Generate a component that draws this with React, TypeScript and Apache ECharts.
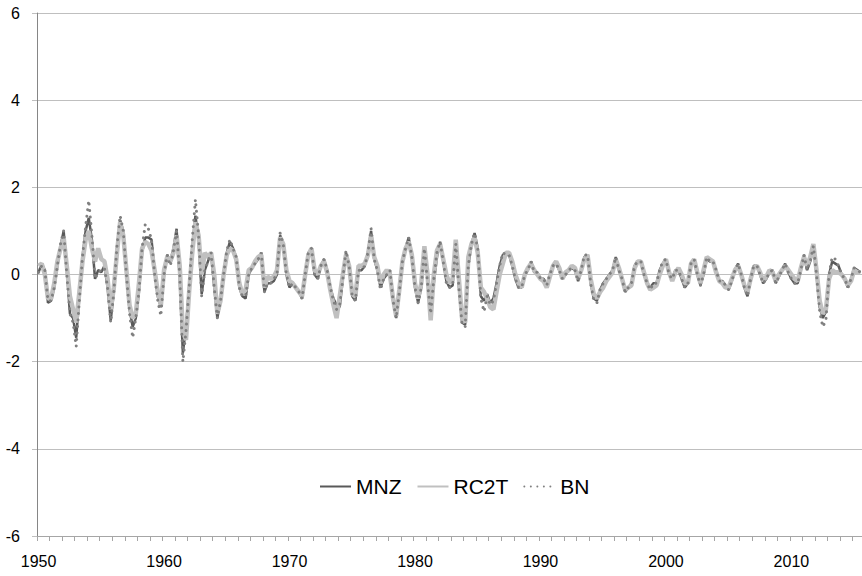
import React, { useEffect, useRef } from "react";
import * as echarts from "echarts";

const START_YEAR = 1950;
const N_QUARTERS = 263;
const yTicks = [-6, -4, -2, 0, 2, 4, 6];

const MNZ = [
  0.05, 0.25, 0.1, -0.65, -0.6, -0.3, 0.2, 0.65,
  1.0, 0.1, -0.9, -1.0, -1.45, -0.5, 0.4, 1.0,
  1.3, 0.8, -0.1, 0.1, 0.05, 0.2, -0.3, -1.05,
  -0.4, 0.6, 1.25, 1.0, 0.0, -0.8, -1.2, -1.0,
  -0.4, 0.5, 0.85, 0.85, 0.8, 0.1, -0.5, -0.75,
  0.0, 0.45, 0.3, 0.6, 1.05, -0.1, -1.8, -1.2,
  -0.3, 0.6, 1.35, 0.8, -0.45, 0.1, 0.3, 0.5,
  -0.3, -1.0, -0.6, 0.0, 0.5, 0.75, 0.6, 0.4,
  -0.3, -0.5, -0.55, 0.0, 0.15, 0.25, 0.35, 0.5,
  -0.4, -0.2, -0.2, -0.15, 0.0, 0.9, 0.7, 0.0,
  -0.3, -0.2, -0.3, -0.4, -0.55, 0.0, 0.5, 0.55,
  0.0, -0.1, 0.2, 0.35, 0.1, -0.3, -0.55, -0.7,
  -0.75, -0.1, 0.5, 0.2, -0.5, -0.6, 0.1, 0.1,
  0.2, 0.5, 1.0, 0.35, 0.1, -0.3, -0.1, 0.0,
  0.1, -0.6, -1.0, -0.4, 0.3, 0.6, 0.85, 0.4,
  -0.3, -0.65, -0.3, 0.65, 0.0, -0.5, -0.2, 0.4,
  0.75, 0.3, -0.15, -0.3, -0.25, 0.6, -0.3, -1.1,
  -1.15, 0.2, 0.7, 0.95, 0.6, -0.5, -0.6, -0.45,
  -0.65, -0.55, -0.2, 0.2, 0.45, 0.45, 0.45, 0.2,
  -0.1, -0.3, -0.3, 0.0, 0.1, 0.3, 0.05, 0.05,
  -0.1, -0.1, -0.25, 0.0, 0.2, 0.25, 0.1, -0.1,
  0.0, 0.1, 0.15, 0.1, -0.15, 0.1, 0.4, 0.45,
  -0.2, -0.55, -0.6, -0.35, -0.2, -0.1, 0.0, 0.1,
  0.4, 0.1, -0.1, -0.4, -0.3, -0.2, 0.2, 0.3,
  0.3, 0.0, -0.2, -0.3, -0.2, -0.2, 0.1, 0.25,
  0.35, 0.0, -0.1, 0.1, 0.1, -0.1, -0.3, -0.2,
  0.2, 0.3, 0.0, -0.25, 0.0, 0.35, 0.3, 0.3,
  0.1, -0.15, -0.15, -0.25, -0.35, -0.15, 0.1, 0.25,
  0.0, -0.3, -0.5, -0.1, 0.2, 0.2, 0.0, -0.2,
  -0.1, 0.05, 0.1, -0.2, -0.05, 0.1, 0.25, 0.05,
  -0.1, -0.2, -0.2, 0.1, 0.45, 0.1, 0.3, 0.65,
  0.0, -0.75, -1.0, -0.85, 0.0, 0.3, 0.25, 0.2,
  0.0, -0.1, -0.3, -0.1, 0.15, 0.1, 0.05,
];

const RC2T = [
  0.2, 0.25, 0.0, -0.55, -0.55, -0.2, 0.3, 0.6,
  0.85, 0.2, -0.5, -0.8, -1.1, -0.4, 0.3, 0.8,
  1.0, 0.6, 0.3, 0.6, 0.35, 0.3, -0.1, -0.8,
  -0.3, 0.5, 1.2, 0.9, 0.1, -0.7, -1.0, -0.9,
  -0.2, 0.6, 0.75, 0.7, 0.55, 0.1, -0.4, -0.7,
  0.1, 0.4, 0.3, 0.5, 0.9, 0.2, -1.3, -1.5,
  -0.4, 0.5, 1.2, 0.9, 0.0, 0.5, 0.4, 0.5,
  0.0, -0.9, -0.6, 0.0, 0.45, 0.6, 0.55, 0.35,
  -0.2, -0.45, -0.35, 0.1, 0.15, 0.3, 0.4, 0.45,
  -0.3, -0.05, -0.1, -0.05, 0.1, 0.85, 0.7, 0.1,
  -0.15, -0.2, -0.3, -0.4, -0.5, 0.0, 0.45, 0.6,
  0.1, 0.0, 0.2, 0.3, 0.05, -0.35, -0.7, -1.0,
  -0.5, 0.0, 0.45, 0.2, -0.45, -0.5, 0.2, 0.2,
  0.25, 0.45, 0.9, 0.4, 0.2, -0.2, 0.0, 0.1,
  0.0, -0.55, -0.95, -0.35, 0.3, 0.6, 0.75, 0.45,
  -0.2, -0.55, -0.2, 0.65, 0.0, -1.05, 0.0, 0.55,
  0.7, 0.35, 0.0, -0.2, -0.1, 0.8, -0.1, -1.0,
  -1.1, 0.4, 0.7, 0.85, 0.5, -0.3, -0.4, -0.55,
  -0.75, -0.8, -0.4, 0.0, 0.25, 0.5, 0.5, 0.3,
  0.0, -0.2, -0.3, 0.0, 0.15, 0.25, 0.1, 0.0,
  -0.1, -0.15, -0.3, -0.05, 0.2, 0.3, 0.15, -0.1,
  0.05, 0.1, 0.2, 0.15, -0.1, 0.1, 0.35, 0.45,
  -0.1, -0.45, -0.55, -0.4, -0.3, -0.15, -0.05, 0.05,
  0.35, 0.15, -0.1, -0.35, -0.3, -0.25, 0.15, 0.3,
  0.3, 0.05, -0.2, -0.35, -0.3, -0.25, 0.0, 0.2,
  0.35, 0.05, -0.15, 0.05, 0.15, 0.0, -0.2, -0.2,
  0.25, 0.35, 0.05, -0.2, 0.1, 0.4, 0.35, 0.3,
  0.05, -0.15, -0.2, -0.3, -0.3, -0.1, 0.1, 0.2,
  0.0, -0.25, -0.4, -0.1, 0.15, 0.2, 0.05, -0.15,
  -0.05, 0.1, 0.05, -0.15, 0.0, 0.1, 0.2, 0.1,
  0.0, -0.1, -0.15, 0.15, 0.4, 0.2, 0.4, 0.7,
  0.1, -0.6, -0.9, -0.8, -0.1, 0.1, 0.05, 0.05,
  0.0, -0.1, -0.25, -0.15, 0.1, 0.05, 0.05,
];

const BN = [
  0.05, 0.2, 0.1, -0.6, -0.6, -0.3, 0.2, 0.7,
  1.0, 0.0, -0.9, -1.1, -1.65, -0.6, 0.4, 1.1,
  1.7, 0.9, -0.1, 0.05, 0.1, 0.15, -0.3, -1.1,
  -0.4, 0.65, 1.35, 1.0, 0.0, -0.9, -1.45, -1.0,
  -0.4, 0.6, 1.15, 1.05, 0.8, 0.0, -0.6, -0.95,
  0.0, 0.45, 0.2, 0.55, 1.0, 0.0, -2.0, -1.3,
  -0.3, 0.8, 1.72, 0.9, -0.5, 0.1, 0.3, 0.5,
  -0.3, -1.0, -0.6, 0.0, 0.55, 0.8, 0.6, 0.4,
  -0.3, -0.5, -0.5, 0.0, 0.15, 0.25, 0.35, 0.5,
  -0.4, -0.2, -0.2, -0.1, 0.0, 0.95, 0.7, 0.0,
  -0.3, -0.2, -0.3, -0.4, -0.55, 0.0, 0.5, 0.6,
  0.0, -0.1, 0.2, 0.35, 0.1, -0.3, -0.6, -0.8,
  -0.7, -0.1, 0.55, 0.2, -0.5, -0.6, 0.1, 0.1,
  0.2, 0.5, 1.05, 0.35, 0.1, -0.35, -0.1, 0.0,
  0.1, -0.6, -1.0, -0.4, 0.3, 0.6, 0.85, 0.4,
  -0.3, -0.65, -0.3, 0.6, -0.2, -0.9, -0.1, 0.5,
  0.75, 0.3, -0.2, -0.3, -0.25, 0.7, -0.3, -1.15,
  -1.2, 0.2, 0.7, 0.95, 0.6, -0.55, -0.85, -0.5,
  -0.7, -0.6, -0.2, 0.2, 0.5, 0.45, 0.45, 0.2,
  -0.1, -0.3, -0.3, 0.0, 0.1, 0.3, 0.05, 0.05,
  -0.1, -0.1, -0.25, 0.0, 0.2, 0.25, 0.1, -0.1,
  0.0, 0.1, 0.15, 0.1, -0.15, 0.1, 0.45, 0.45,
  -0.2, -0.6, -0.65, -0.35, -0.2, -0.1, 0.0, 0.1,
  0.4, 0.1, -0.1, -0.4, -0.3, -0.2, 0.2, 0.3,
  0.3, 0.0, -0.2, -0.35, -0.2, -0.2, 0.1, 0.3,
  0.35, 0.0, -0.1, 0.1, 0.1, -0.1, -0.3, -0.2,
  0.25, 0.35, 0.0, -0.25, 0.0, 0.4, 0.3, 0.3,
  0.1, -0.15, -0.15, -0.25, -0.35, -0.15, 0.1, 0.25,
  0.0, -0.3, -0.5, -0.1, 0.2, 0.2, 0.0, -0.2,
  -0.1, 0.05, 0.1, -0.2, -0.05, 0.1, 0.25, 0.05,
  -0.1, -0.2, -0.2, 0.1, 0.45, 0.1, 0.3, 0.65,
  0.0, -0.85, -1.2, -1.05, 0.0, 0.4, 0.35, 0.2,
  0.0, -0.1, -0.3, -0.1, 0.15, 0.1, 0.05,
];

const categories: string[] = [];
for (let i = 0; i < N_QUARTERS; i++) {
  const y = START_YEAR + Math.floor(i / 4);
  const q = (i % 4) + 1;
  categories.push(q === 1 ? String(y) : `${y}Q${q}`);
}

const FONT = "Liberation Sans";
const C_MNZ = "#595959";
const C_RC2T = "#c0c0c0";
const C_BN = "#808080";

export default function App() {
  const ref = useRef<HTMLDivElement>(null);
  useEffect(() => {
    if (!ref.current) return;
    const chart = echarts.init(ref.current, null, { renderer: "svg" });
    chart.setOption({
      animation: false,
      backgroundColor: "#ffffff",
      grid: { left: 37, right: 0, top: 13, bottom: 40, containLabel: false },
      legend: {
        left: 314,
        top: 471,
        itemWidth: 31,
        itemHeight: 14,
        itemGap: 15,
        itemStyle: { opacity: 0 },
        textStyle: { fontFamily: FONT, fontSize: 21, color: "#000" },
        data: ["MNZ", "RC2T", "BN"],
      },
      xAxis: {
        type: "category",
        data: categories,
        boundaryGap: true,
        axisLine: { show: true, onZero: false, lineStyle: { color: "#a6a6a6", width: 1 } },
        axisTick: { show: true, interval: 3, length: 5, lineStyle: { color: "#a6a6a6" } },
        axisLabel: {
          interval: 39,
          margin: 17,
          fontFamily: FONT,
          fontSize: 16,
          color: "#000",
        },
        splitLine: { show: false },
      },
      yAxis: {
        type: "value",
        min: yTicks[0],
        max: yTicks[yTicks.length - 1],
        interval: 2,
        axisLine: { show: true, lineStyle: { color: "#868686", width: 1 } },
        axisTick: { show: true, length: 5, lineStyle: { color: "#bfbfbf" } },
        axisLabel: { margin: 17, fontFamily: FONT, fontSize: 16, color: "#000" },
        splitLine: { show: true, lineStyle: { color: "#bfbfbf", width: 1 } },
      },
      series: [
        {
          name: "MNZ",
          type: "line",
          data: MNZ,
          symbol: "none",
          lineStyle: { color: C_MNZ, width: 2.5 },
          itemStyle: { color: C_MNZ },
        },
        {
          name: "RC2T",
          type: "line",
          data: RC2T,
          symbol: "none",
          lineStyle: { color: C_RC2T, width: 4.5 },
          itemStyle: { color: C_RC2T },
        },
        {
          name: "BN",
          type: "line",
          data: BN,
          symbol: "none",
          lineStyle: { color: C_BN, width: 3, type: [0.01, 6.5], cap: "round" },
          itemStyle: { color: C_BN },
        },
      ],
    });
    return () => chart.dispose();
  }, []);
  return (
    <div
      ref={ref}
      style={{ position: "fixed", left: 0, top: 0, width: 862, height: 576, background: "#fff" }}
    />
  );
}
